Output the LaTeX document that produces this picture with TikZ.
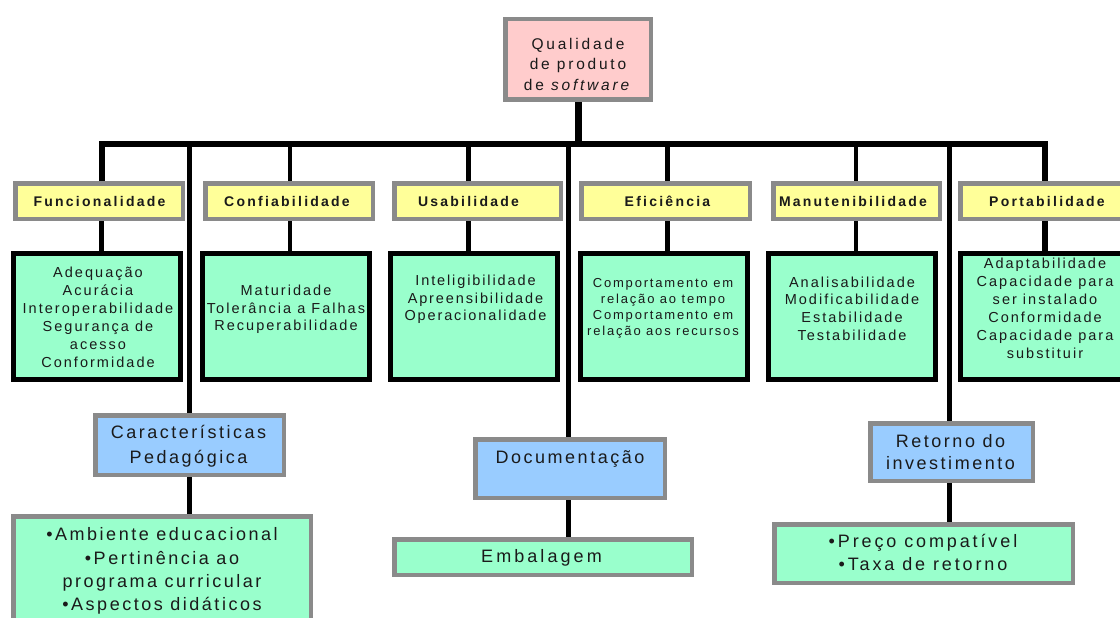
\documentclass[tikz,border=0pt]{standalone}
\usepackage{fontspec}
\setmainfont{Liberation Sans}
\definecolor{pinkf}{HTML}{FFCCCC}
\definecolor{yelf}{HTML}{FFFF99}
\definecolor{grnf}{HTML}{99FFCC}
\definecolor{bluf}{HTML}{99CCFF}
\definecolor{brd}{HTML}{8A8A8A}
\definecolor{ink}{HTML}{1A1A1A}
\newcommand\fsz[3]{\fontsize{#1}{#2}\selectfont\addfontfeatures{LetterSpace=#3}}
\pgfdeclarelayer{bg}
\pgfsetlayers{bg,main}
\begin{document}
\begin{tikzpicture}[x=1pt,y=-1pt,
  gbox/.style={draw=brd,line width=4.5pt,inner sep=0pt},
  kbox/.style={draw=black,line width=5pt,inner sep=0pt,fill=grnf,minimum width=167pt,minimum height=126pt},
  ybox/.style={gbox,fill=yelf,minimum width=167.5pt,minimum height=35.5pt},
  txt/.style={align=center,inner sep=0pt,text=ink},
  ytxt/.style={txt,font=\bfseries\fsz{14}{17}{16}},
  gtxt/.style={txt,font=\fsz{14.5}{18}{14}},
  btxt/.style={txt,font=\fsz{18}{25}{14}},
  conn/.style={draw=black,line width=4.6pt},
  bar/.style={draw=black,line width=6pt,line join=miter},
]
\useasboundingbox (0,0) rectangle (1120,618);

% top box
\node[gbox,fill=pinkf,minimum width=145.5pt,minimum height=80.5pt] (top) at (578,59.5) {};
\node[txt,font=\fsz{15.5}{20.5}{18}] (ttop) at (578,64) {Qualidade\\de produto\\de \textit{software}};

% bar coordinates
\coordinate (b1) at (101.5,143.5);
\coordinate (b2) at (290,143.5);
\coordinate (b3) at (468.5,143.5);
\coordinate (b4) at (667.5,143.5);
\coordinate (b5) at (856,143.5);
\coordinate (b6) at (1045,143.5);
\coordinate (c1) at (189.5,143.5);
\coordinate (c2) at (568.5,143.5);
\coordinate (c3) at (949.5,143.5);

% yellow boxes
\node[ybox] (func) at (99,201) {};
\node[ybox] (conf) at (289,201) {};
\node[ybox,minimum width=166.5pt] (usab) at (477.5,201) {};
\node[ybox,minimum width=168.5pt] (efic) at (665.5,201) {};
\node[ybox,minimum width=166.5pt] (manu) at (856.5,201) {};
\node[ybox,minimum width=169.5pt] (port) at (1045,201) {};
\node[ytxt] (tfunc) at (99.5,201) {Funcionalidade};
\node[ytxt] (tconf) at (287,201) {Confiabilidade};
\node[ytxt] (tusab) at (468.5,201) {Usabilidade};
\node[ytxt] (tefic) at (667.5,201) {Eficiência};
\node[ytxt] (tmanu) at (853,201) {Manutenibilidade};
\node[ytxt] (tport) at (1047,201) {Portabilidade};

% green boxes (black border)
\node[kbox] (funcg) at (97,316.5) {};
\node[kbox] (confg) at (285.5,316.5) {};
\node[kbox] (usabg) at (473.5,316.5) {};
\node[kbox] (eficg) at (663.5,316.5) {};
\node[kbox] (manug) at (851.5,316.5) {};
\node[kbox] (portg) at (1044,316.5) {};
\node[gtxt] (tfuncg) at (98,317) {Adequação\\Acurácia\\Interoperabilidade\\Segurança de\\acesso\\Conformidade};
\node[gtxt,font=\fsz{14.5}{17.5}{14}] (tconfg) at (286,309.5) {Maturidade\\Tolerância a Falhas\\Recuperabilidade};
\node[gtxt,font=\fsz{14.5}{17.5}{13}] (tusabg) at (475.5,299.5) {Inteligibilidade\\Apreensibilidade\\Operacionalidade};
\node[gtxt,font=\fsz{13}{16}{14}] (teficg) at (663,308) {Comportamento em\\relação ao tempo\\Comportamento em\\relação aos recursos};
\node[gtxt,font=\fsz{14.5}{17.7}{14}] (tmanug) at (852,308.5) {Analisabilidade\\Modificabilidade\\Estabilidade\\Testabilidade};
\node[gtxt] (tportg) at (1045,308) {Adaptabilidade\\Capacidade para\\ser instalado\\Conformidade\\Capacidade para\\substituir};

% blue boxes
\node[gbox,fill=bluf,minimum width=188.5pt,minimum height=59.5pt] (car) at (189.5,445) {};
\node[gbox,fill=bluf,minimum width=189.5pt,minimum height=58.5pt] (doc) at (570,468.5) {};
\node[gbox,fill=bluf,minimum width=162.5pt,minimum height=57.5pt] (ret) at (951.5,452) {};
\node[btxt] (tcar) at (188.5,446.5) {Características\\Pedagógica};
\node[btxt] (tdoc) at (570,459) {Documentação};
\node[btxt,font=\fsz{18}{22}{14}] (tret) at (950.5,452) {Retorno do\\investimento};

% bottom green boxes
\node[gbox,fill=grnf,minimum width=297.5pt,minimum height=111.5pt] (amb) at (162,572) {};
\node[gbox,fill=grnf,minimum width=297.5pt,minimum height=35.5pt] (emb) at (543,557) {};
\node[gbox,fill=grnf,minimum width=298.5pt,minimum height=58.5pt] (pre) at (923.5,553.5) {};
\node[txt,font=\fsz{18}{23.3}{14}] (tamb) at (162,571) {•Ambiente educacional\\•Pertinência ao\\programa curricular\\•Aspectos didáticos};
\node[txt,font=\fsz{18}{23}{17}] (temb) at (541.5,558) {Embalagem};
\node[txt,font=\fsz{18}{23}{16}] (tpre) at (923,552.5) {•Preço compatível\\•Taxa de retorno};

\begin{pgfonlayer}{bg}
  \draw[line width=7pt] (top.south) -- (top.south |- b1);
  \draw[bar] (b1 |- func.north) -- (b1) -- (b6) -- (b6 |- port.north);
  \draw[conn] (b2) -- (b2 |- conf.north);
  \draw[conn] (b3) -- (b3 |- usab.north);
  \draw[conn] (b4) -- (b4 |- efic.north);
  \draw[conn] (b5) -- (b5 |- manu.north);
  \draw[conn] (b1 |- func.south) -- (b1 |- funcg.north);
  \draw[conn] (b2 |- conf.south) -- (b2 |- confg.north);
  \draw[conn] (b3 |- usab.south) -- (b3 |- usabg.north);
  \draw[conn] (b4 |- efic.south) -- (b4 |- eficg.north);
  \draw[conn] (b5 |- manu.south) -- (b5 |- manug.north);
  \draw[conn,line width=5.5pt] (b6 |- port.south) -- (b6 |- portg.north);
  \draw[conn,line width=4.2pt] (c1) -- (c1 |- car.north);
  \draw[conn,line width=4.2pt] (c2) -- (c2 |- doc.north);
  \draw[conn,line width=4.2pt] (c3) -- (c3 |- ret.north);
  \draw[conn] (car.south) -- (car.south |- amb.north);
  \draw[conn] (c2 |- doc.south) -- (c2 |- emb.north);
  \draw[conn] (c3 |- ret.south) -- (c3 |- pre.north);
\end{pgfonlayer}
\end{tikzpicture}
\end{document}
